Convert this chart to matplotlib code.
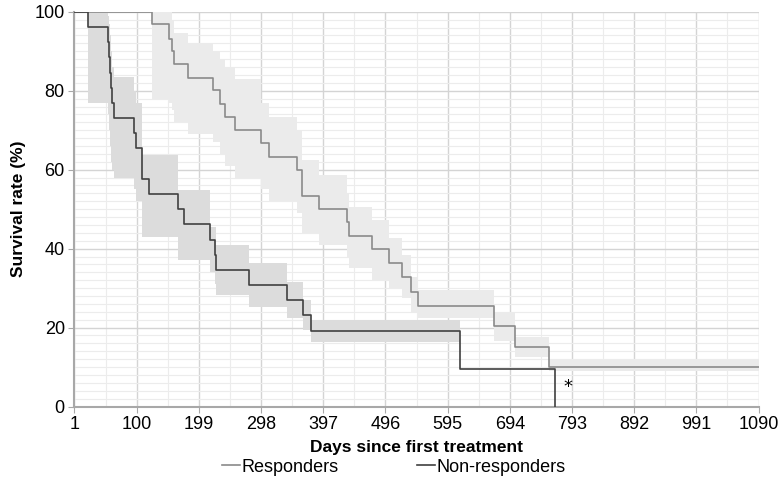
# Kaplan-Meier style survival chart: responders vs non-responders
import numpy as np
import matplotlib.pyplot as plt
from matplotlib.lines import Line2D
from matplotlib.ticker import MultipleLocator, FixedLocator

plt.rcParams['font.family'] = ['Liberation Sans', 'DejaVu Sans']

# Responders: step times (days), survival (%), band low / high (%)
resp_days = [1, 124, 152, 156, 159, 182, 221, 233, 241, 257, 298, 311, 355, 363,
             391, 435, 438, 474, 502, 522, 537, 548, 669, 703, 757, 1090]
resp_surv = [100, 96.8, 93.2, 90.1, 86.7, 83.3, 80.1, 76.6, 73.3, 70.1, 66.8, 63.3, 60.0, 53.3,
             50.0, 46.7, 43.3, 40.0, 36.4, 32.7, 29.1, 25.4, 20.4, 15.1, 10.1, 10.1]
resp_lo = [100, 78, 77, 75, 72, 69, 67, 64, 61, 58, 55, 52, 49, 44,
           41, 38, 35, 32, 30, 27.5, 23.7, 22.4, 16.5, 12.5, 9.0, 9.0]
resp_hi = [100, 100, 100, 98, 94.5, 92, 90, 88, 86, 83, 77, 73.3, 70, 62.4,
           58.6, 54, 50.6, 47.2, 42.6, 38.4, 32.9, 29.5, 24, 17.5, 11.8, 11.8]

# Non-responders
non_days = [1, 23, 55, 56, 57, 59, 60, 64, 95, 99, 109, 120, 165, 175, 217, 225, 227,
            279, 339, 364, 377, 615, 766]
non_surv = [100, 96.2, 92.3, 88.5, 84.6, 80.8, 76.9, 73.1, 69.2, 65.4, 57.7, 53.8, 50.0, 46.2,
            42.3, 38.5, 34.6, 30.8, 26.9, 23.1, 19.2, 9.6, 0]
non_lo = [100, 77, 74, 70, 66, 62, 60, 58, 55, 52, 43, 43, 37, 37, 34, 31, 28.2,
          25.3, 22.4, 19.5, 16.3, 8.4, np.nan]
non_hi = [100, 100, 99, 97, 94, 90, 86, 83.5, 80, 77, 63.7, 63.7, 54.8, 54.8, 45.5, 45.5, 40.9,
          36.3, 31.6, 27, 21.9, 10.9, np.nan]

x_ticks = [1, 100, 199, 298, 397, 496, 595, 694, 793, 892, 991, 1090]

fig = plt.figure(figsize=(7.8, 4.8), dpi=100)
ax = fig.add_axes([0.0955, 0.153, 0.877, 0.8225])

# confidence bands
ax.fill_between(resp_days, resp_lo, resp_hi, step='post', color='#ebebeb', lw=0, zorder=2)
ax.fill_between(non_days, non_lo, non_hi, step='post', color='#dcdcdc', lw=0, zorder=3)

# survival curves
ax.step(resp_days, resp_surv, where='post', color='#8a8a8a', lw=1.2, zorder=4)
ax.step(non_days, non_surv, where='post', color='#404040', lw=1.2, zorder=5)

ax.text(787, 5.0, '*', ha='center', va='center', fontsize=13,
        family='DejaVu Sans', zorder=6)

ax.set_xlim(1, 1090)
ax.set_ylim(0, 100)
ax.xaxis.set_major_locator(FixedLocator(x_ticks))
ax.xaxis.set_minor_locator(FixedLocator([t + 49.5 for t in x_ticks[:-1]]))
ax.yaxis.set_major_locator(MultipleLocator(20))
ax.yaxis.set_minor_locator(MultipleLocator(2))

ax.grid(which='major', color='#d4d4d4', lw=1.0)
ax.grid(which='minor', color='#ececec', lw=0.8)
ax.set_axisbelow(True)

for s in ['top', 'right']:
    ax.spines[s].set_visible(False)
for s in ['left', 'bottom']:
    ax.spines[s].set_color('#a8a8a8')
    ax.spines[s].set_linewidth(1.5)
ax.tick_params(which='major', length=4, color='#a8a8a8', labelsize=13, pad=3)
ax.tick_params(which='minor', length=0)

ax.set_xlabel('Days since first treatment', fontsize=12.5, fontweight='bold', labelpad=5)
ax.set_ylabel('Survival rate (%)', fontsize=12.5, fontweight='bold', labelpad=6)

handles = [Line2D([], [], color='#8a8a8a', lw=1.2),
           Line2D([], [], color='#404040', lw=1.2)]
fig.legend(handles, ['Responders', 'Non-responders'], loc='center', ncol=2,
           bbox_to_anchor=(0.505, 0.027), frameon=False, fontsize=13,
           handlelength=1.0, handletextpad=0.1, columnspacing=4.3)

fig.savefig('out.png', dpi=100)
